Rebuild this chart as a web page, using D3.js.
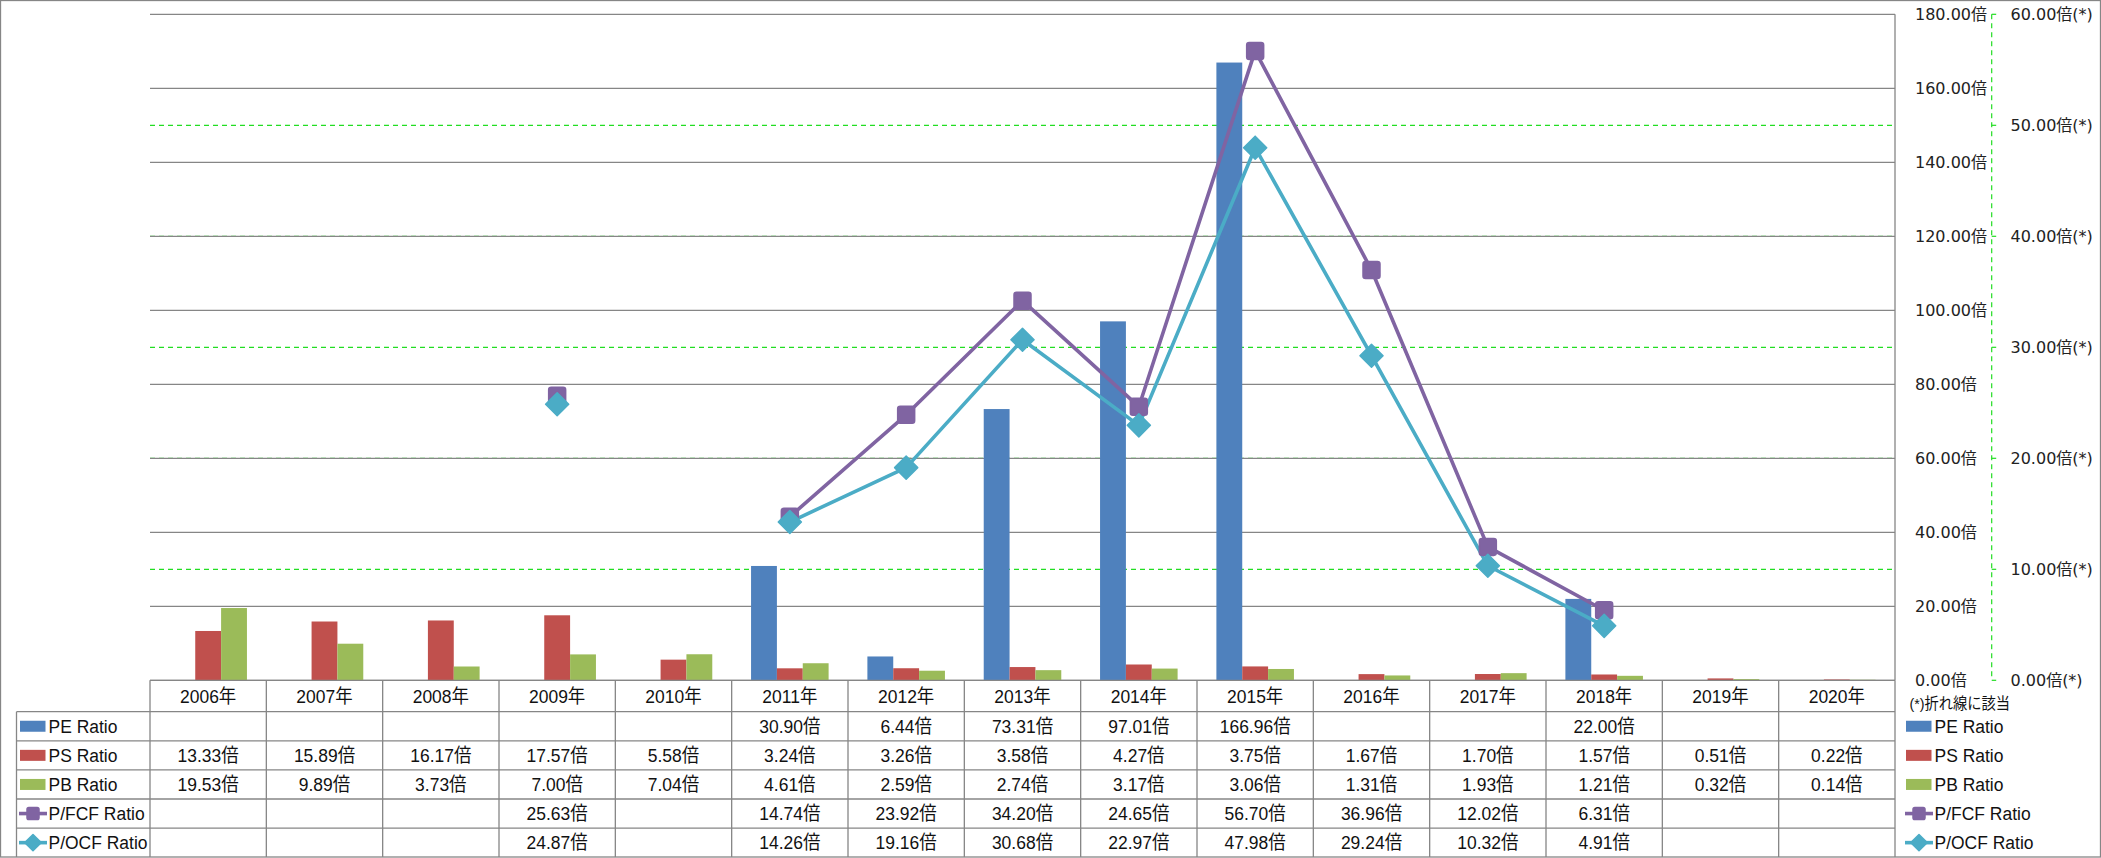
<!DOCTYPE html>
<html>
<head>
<meta charset="utf-8">
<script src="https://cdn.jsdelivr.net/npm/d3@7"></script>
<style>
html,body{margin:0;padding:0;background:#fff;}
svg{display:block;}
.nar{font-family:"Liberation Sans","Noto Sans CJK JP",sans-serif;}
.ax{font-family:"DejaVu Sans","Noto Sans CJK JP",sans-serif;}
</style>
</head>
<body>
<svg id="c" width="2101" height="858"></svg>
<script>
const categories = ["2006年","2007年","2008年","2009年","2010年","2011年","2012年","2013年","2014年","2015年","2016年","2017年","2018年","2019年","2020年"];
const peRatio  = [null,null,null,null,null,30.90,6.44,73.31,97.01,166.96,null,null,22.00,null,null];
const psRatio  = [13.33,15.89,16.17,17.57,5.58,3.24,3.26,3.58,4.27,3.75,1.67,1.70,1.57,0.51,0.22];
const pbRatio  = [19.53,9.89,3.73,7.00,7.04,4.61,2.59,2.74,3.17,3.06,1.31,1.93,1.21,0.32,0.14];
const pfcfRatio = [null,null,null,25.63,null,14.74,23.92,34.20,24.65,56.70,36.96,12.02,6.31,null,null];
const pocfRatio = [null,null,null,24.87,null,14.26,19.16,30.68,22.97,47.98,29.24,10.32,4.91,null,null];
const primaryTicks = [0,20,40,60,80,100,120,140,160,180];
const secondaryTicks = [0,10,20,30,40,50,60];
const barSeries = [
  {name:"PE Ratio", values: peRatio, color:"#4F81BD"},
  {name:"PS Ratio", values: psRatio, color:"#C0504D"},
  {name:"PB Ratio", values: pbRatio, color:"#9BBB59"}
];
const lineSeries = [
  {name:"P/FCF Ratio", values: pfcfRatio, color:"#8064A2", marker:"square"},
  {name:"P/OCF Ratio", values: pocfRatio, color:"#4BACC6", marker:"diamond"}
];
const noteText = "(*)折れ線に該当";

const svg = d3.select("#c");
const L = 150, R = 1895, T = 14.3, B = 680.3;
const gridCol = "#868686";
const SX = 0.92;

const x0 = d3.scaleBand().domain(categories).range([L, R]).paddingInner(0).paddingOuter(0);
const x1 = d3.scaleBand().domain(barSeries.map(s=>s.name)).range([0, x0.bandwidth()]).paddingInner(0).paddingOuter(0.75);
const y = d3.scaleLinear().domain([0,180]).range([B, T]);
const y2 = d3.scaleLinear().domain([0,60]).range([B, T]);

// narrow text helper
function ntext(g, x, yy, str, anchor, size){
  return g.append("text").attr("class","nar")
    .attr("transform",`translate(${x},${yy}) scale(${SX},1)`)
    .attr("dy","0.36em").attr("text-anchor",anchor||"start")
    .attr("font-size",size||19).attr("fill","#111").text(str);
}

// outer border
svg.append("rect").attr("x",0.5).attr("y",0.5).attr("width",2100).attr("height",856.5)
  .attr("fill","none").attr("stroke",gridCol).attr("stroke-width",1.3);

// secondary dashed gridlines
svg.append("g").selectAll("line").data(secondaryTicks.filter(t=>t>0 && t<60)).join("line")
  .attr("x1",L).attr("x2",R).attr("y1",d=>y2(d)).attr("y2",d=>y2(d))
  .attr("stroke","#22dd22").attr("stroke-width",1.2).attr("stroke-dasharray","5,4");

// primary gridlines
svg.append("g").selectAll("line").data(primaryTicks).join("line")
  .attr("x1",L).attr("x2",R).attr("y1",d=>y(d)).attr("y2",d=>y(d))
  .attr("stroke",gridCol).attr("stroke-width",1.3);

// primary axis line on right
svg.append("line").attr("x1",R).attr("x2",R).attr("y1",T).attr("y2",B).attr("stroke",gridCol).attr("stroke-width",1.3);

// primary labels
svg.append("g").selectAll("text").data(primaryTicks).join("text")
  .attr("class","ax").attr("x",1915).attr("y",d=>y(d)).attr("dy","0.36em")
  .attr("font-size",16).attr("fill","#222").text(d=>d.toFixed(2)+"倍");

// secondary axis (dashed green)
const ax2x = 1991.7;
svg.append("line").attr("x1",ax2x).attr("x2",ax2x).attr("y1",T).attr("y2",B)
  .attr("stroke","#22dd22").attr("stroke-width",1.2).attr("stroke-dasharray","5,4");
svg.append("g").selectAll("line").data(secondaryTicks).join("line")
  .attr("x1",ax2x).attr("x2",ax2x+4.5).attr("y1",d=>y2(d)).attr("y2",d=>y2(d))
  .attr("stroke","#22dd22").attr("stroke-width",1.2);
svg.append("g").selectAll("text").data(secondaryTicks).join("text")
  .attr("class","ax").attr("x",2010.5).attr("y",d=>y2(d)).attr("dy","0.36em")
  .attr("font-size",16).attr("fill","#222").text(d=>d.toFixed(2)+"倍(*)");

// bars
const gb = svg.append("g");
barSeries.forEach(s=>{
  gb.append("g").selectAll("rect").data(s.values.map((v,i)=>({v,c:categories[i]})).filter(d=>d.v!=null)).join("rect")
    .attr("x",d=>x0(d.c)+x1(s.name)).attr("width",x1.bandwidth())
    .attr("y",d=>y(d.v)).attr("height",d=>B-y(d.v)).attr("fill",s.color);
});

// lines
function drawMarker(g, type, cx, cy, size, color){
  if(type==="square"){
    g.append("rect").attr("x",cx-size/2).attr("y",cy-size/2).attr("width",size).attr("height",size)
      .attr("rx",size*0.15).attr("fill",color).attr("stroke",color).attr("stroke-width",1.5).attr("stroke-linejoin","round");
  } else {
    const h = size*0.68;
    g.append("path").attr("d",`M${cx},${cy-h}L${cx+h},${cy}L${cx},${cy+h}L${cx-h},${cy}Z`)
      .attr("fill",color).attr("stroke",color).attr("stroke-width",1.5).attr("stroke-linejoin","round");
  }
}
const gl = svg.append("g");
lineSeries.forEach(s=>{
  const pts = s.values.map((v,i)=>({v,x:x0(categories[i])+x0.bandwidth()/2}));
  const line = d3.line().defined(d=>d.v!=null).x(d=>d.x).y(d=>y2(d.v));
  gl.append("path").attr("d",line(pts)).attr("fill","none").attr("stroke",s.color)
    .attr("stroke-width",3.6).attr("stroke-linejoin","round");
});
lineSeries.forEach(s=>{
  const pts = s.values.map((v,i)=>({v,x:x0(categories[i])+x0.bandwidth()/2})).filter(d=>d.v!=null);
  pts.forEach(p=>drawMarker(gl, s.marker, p.x, y2(p.v), 17, s.color));
});

// data table
const hdrTop = B, hdrBot = 711.7, rowH = 29.1;
const rows = [...barSeries, ...lineSeries];
const tableLeft = 16.5;
const gt = svg.append("g");
const lineAttr = sel => sel.attr("stroke",gridCol).attr("stroke-width",1.3);
lineAttr(gt.append("line").attr("x1",L).attr("x2",R).attr("y1",hdrTop).attr("y2",hdrTop));
rows.forEach((r,i)=>{
  const yy = hdrBot + i*rowH;
  lineAttr(gt.append("line").attr("x1",tableLeft).attr("x2",R).attr("y1",yy).attr("y2",yy));
});
const bounds = categories.map(c=>x0(c)).concat([R]);
bounds.forEach(bx=>lineAttr(gt.append("line").attr("x1",bx).attr("x2",bx).attr("y1",hdrTop).attr("y2",857)));
lineAttr(gt.append("line").attr("x1",tableLeft).attr("x2",tableLeft).attr("y1",hdrBot).attr("y2",857));

// header labels
categories.forEach(c=>ntext(gt, x0(c)+x0.bandwidth()/2, (hdrTop+hdrBot)/2, c, "middle", 19));

// cells
rows.forEach((r,i)=>{
  const cy = hdrBot + i*rowH + rowH/2;
  r.values.forEach((v,j)=>{
    if(v!=null) ntext(gt, x0(categories[j])+x0.bandwidth()/2, cy, v.toFixed(2)+"倍", "middle", 19);
  });
});

// legend keys (table + right legend)
function legendKey(g, r, kx, cy){
  if(r.marker){
    g.append("line").attr("x1",kx).attr("x2",kx+28).attr("y1",cy).attr("y2",cy).attr("stroke",r.color).attr("stroke-width",3.6);
    drawMarker(g, r.marker, kx+14, cy, 12, r.color);
  } else {
    g.append("rect").attr("x",kx+1).attr("y",cy-5.5).attr("width",25.5).attr("height",11).attr("fill",r.color);
  }
}
rows.forEach((r,i)=>{
  const cy = hdrBot + i*rowH + rowH/2;
  legendKey(gt, r, 19, cy);
  ntext(gt, 48.5, cy, r.name, "start", 19);
  legendKey(gt, r, 1905, cy);
  ntext(gt, 1934.5, cy, r.name, "start", 19);
});

ntext(svg, 1909.5, 703, noteText, "start", 15.5);
</script>
</body>
</html>
